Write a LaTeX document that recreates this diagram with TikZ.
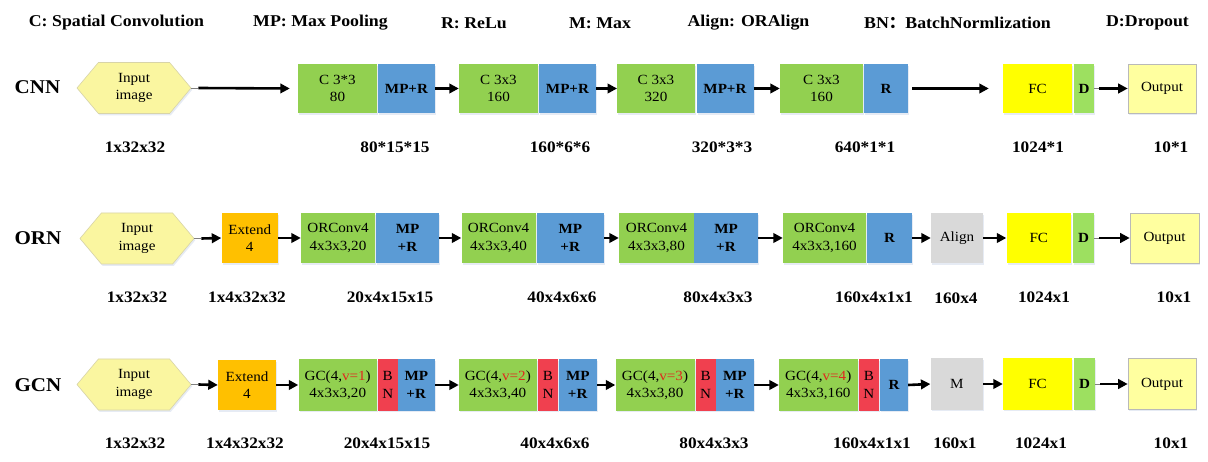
\documentclass[tikz,border=0pt]{standalone}
\usepackage{fontspec}
\setmainfont{Liberation Serif}[FakeStretch=1.08]
\newfontfamily\cjk{Noto Sans CJK SC}
\usetikzlibrary{shapes.symbols,arrows.meta,shadows,calc}
\definecolor{cgreen}{HTML}{92D050}
\definecolor{cblue}{HTML}{5B9BD5}
\definecolor{corange}{HTML}{FFC000}
\definecolor{cyellow}{HTML}{FFFF00}
\definecolor{clyellow}{HTML}{FFFF9F}
\definecolor{chex}{HTML}{FAF6A0}
\definecolor{chexb}{HTML}{D8D4A8}
\definecolor{cgray}{HTML}{D9D9D9}
\definecolor{cred}{HTML}{F0404F}
\definecolor{cdgreen}{HTML}{9DE060}
\definecolor{vred}{HTML}{E0281E}
\definecolor{cshadow}{HTML}{B8C8E0}
\tikzset{
  blk/.style={rectangle, inner sep=0pt, minimum height=50pt, align=center,
    font=\fontsize{14}{17.5}\selectfont,
    drop shadow={shadow xshift=1.2pt, shadow yshift=-1.8pt, opacity=0.35, fill=cshadow}},
  gbox/.style={blk, fill=cgreen},
  bbox/.style={blk, fill=cblue, font=\bfseries\fontsize{14}{17.5}\selectfont},
  rbox/.style={blk, fill=cred},
  obox/.style={blk, fill=corange},
  ybox/.style={blk, fill=cyellow},
  dbox/.style={blk, fill=cdgreen, font=\bfseries\fontsize{14}{17.5}\selectfont},
  abox/.style={blk, fill=cgray},
  outbox/.style={blk, fill=clyellow, draw=gray!55, line width=0.6pt},
  hexa/.style={shape=signal, signal to=west and east, signal pointer angle=100,
    fill=chex, draw=chexb, line width=0.6pt, inner sep=0pt,
    minimum width=114pt, minimum height=51pt, align=center,
    font=\fontsize{14}{17.5}\selectfont,
    drop shadow={shadow xshift=1.2pt, shadow yshift=-1.8pt, opacity=0.35, fill=cshadow}},
  arr/.style={line width=2.6pt, -{Triangle[length=9.5pt,width=9.5pt]}},
  stub/.style={draw=gray, line width=0.8pt},
  legend/.style={font=\bfseries\fontsize{16.5}{19}\selectfont, inner sep=0pt},
  dimlab/.style={font=\bfseries\fontsize{16}{19}\selectfont, inner sep=0pt},
  rowlab/.style={font=\bfseries\fontsize{19.5}{22}\selectfont, inner sep=0pt},
}
\begin{document}
\begin{tikzpicture}[x=1pt,y=-1pt]
\useasboundingbox (0,0) rectangle (1208,462);
\fill[white] (0,0) rectangle (1208,462);

% legend
\node[legend] (l1) at (116.5,23) {C: Spatial Convolution};
\node[legend] (l2) at (320.5,23) {MP: Max Pooling};
\node[legend] (l3) at (474,23) {R: ReLu};
\node[legend] (l4) at (600,23) {M: Max};
\node[legend] (l5) at (748.5,23) {Align: ORAlign};
\node[legend] (l6) at (957.5,23) {BN{\cjk\bfseries ：}BatchNormlization};
\node[legend] (l7) at (1147.5,23) {D:Dropout};

% row labels
\node[rowlab] (rcnn) at (37.5,87) {CNN};
\node[rowlab] (rorn) at (38,238) {ORN};
\node[rowlab] (rgcn) at (38,385) {GCN};

% ---------------- CNN ----------------
\node[hexa] (cin) at (134,88) {Input\\image};
\node[gbox, minimum width=79pt, minimum height=49pt] (c1) at (337.5,88.5) {C 3*3\\80};
\node[bbox, minimum width=57pt, minimum height=49pt] (c1r) at (406.5,88.5) {MP+R};
\node[gbox, minimum width=79pt, minimum height=49pt] (c2) at (498.5,88.5) {C 3x3\\160};
\node[bbox, minimum width=57pt, minimum height=49pt] (c2r) at (567.5,88.5) {MP+R};
\node[gbox, minimum width=77.5pt, minimum height=49pt] (c3) at (656,88.5) {C 3x3\\320};
\node[bbox, minimum width=57pt, minimum height=49pt] (c3r) at (725,88.5) {MP+R};
\node[gbox, minimum width=83pt, minimum height=49pt] (c4) at (821.5,88.5) {C 3x3\\160};
\node[bbox, minimum width=44pt, minimum height=49pt] (c4r) at (886,88.5) {R};
\node[ybox, minimum width=69pt, minimum height=49pt] (cfc) at (1037.5,88.5) {FC};
\node[dbox, minimum width=20pt, minimum height=49pt] (cd) at (1084,88.5) {D};
\node[outbox, minimum width=68pt, minimum height=49pt] (cout) at (1162,88.5) {Output};

\draw[stub] (cin.east) -- ++(7,0) coordinate (cs1);
\draw[arr] (cs1) -- ($(c1.west)+(-8,0)$);
\draw[arr] (c1r.east) -- (c2.west);
\draw[arr] (c2r.east) -- (c3.west);
\draw[arr] (c3r.east) -- (c4.west);
\draw[arr] ($(c4r.east)+(4,0)$) -- ($(cfc.west)+(-14,0)$);
\draw[stub] (cd.east) -- ++(5,0) coordinate (cs2);
\draw[arr] (cs2) -- (cout.west);

\node[dimlab] (cd1) at (135,147) {1x32x32};
\node[dimlab] (cd2) at (395,147) {80*15*15};
\node[dimlab] (cd3) at (560,147) {160*6*6};
\node[dimlab] (cd4) at (722,147) {320*3*3};
\node[dimlab] (cd5) at (865,147) {640*1*1};
\node[dimlab] (cd6) at (1038,147) {1024*1};
\node[dimlab] (cd7) at (1171,147) {10*1};

% ---------------- ORN ----------------
\node[hexa] (oin) at (137,238.5) {Input\\image};
\node[obox, minimum width=56.5pt] (oext) at (249.75,238) {Extend\\4};
\node[gbox, minimum width=74pt] (o1) at (338,238) {ORConv4\\4x3x3,20};
\node[bbox, minimum width=63pt] (o1r) at (407.5,238) {MP\\+R};
\node[gbox, minimum width=74pt] (o2) at (498.5,238) {ORConv4\\4x3x3,40};
\node[bbox, minimum width=67.5pt] (o2r) at (570.25,238) {MP\\+R};
\node[gbox, minimum width=75pt] (o3) at (656.5,238) {ORConv4\\4x3x3,80};
\node[bbox, minimum width=63.5pt] (o3r) at (726,238) {MP\\+R};
\node[gbox, minimum width=83pt] (o4) at (824.5,238) {ORConv4\\4x3x3,160};
\node[bbox, minimum width=45pt] (o4r) at (889.5,238) {R};
\node[abox, minimum width=52pt] (oal) at (957,238) {Align};
\node[ybox, minimum width=64.5pt] (ofc) at (1038.75,238) {FC};
\node[dbox, minimum width=21pt] (od) at (1083.5,238) {D};
\node[outbox, minimum width=69pt] (oout) at (1164.5,238) {Output};

\draw[stub] (oin.east) -- ++(7,0) coordinate (os1);
\draw[arr] (os1) -- (oext.west);
\draw[arr] (oext.east) -- (o1.west);
\draw[arr] (o1r.east) -- (o2.west);
\draw[arr] (o2r.east) -- (o3.west);
\draw[arr] (o3r.east) -- (o4.west);
\draw[arr] (o4r.east) -- (oal.west);
\draw[arr] (oal.east) -- (ofc.west);
\draw[stub] (od.east) -- ++(5,0) coordinate (os2);
\draw[arr] (os2) -- (oout.west);

\node[dimlab] (od1) at (137,297) {1x32x32};
\node[dimlab] (od2) at (247,297) {1x4x32x32};
\node[dimlab] (od3) at (390,297) {20x4x15x15};
\node[dimlab] (od4) at (562,297) {40x4x6x6};
\node[dimlab] (od5) at (718,297) {80x4x3x3};
\node[dimlab] (od6) at (874,297) {160x4x1x1};
\node[dimlab] (od7) at (956,298.5) {160x4};
\node[dimlab] (od8) at (1044,297) {1024x1};
\node[dimlab] (od9) at (1174,297) {10x1};

% ---------------- GCN ----------------
\node[hexa] (gin) at (134,384.5) {Input\\image};
\node[obox, minimum width=58pt] (gext) at (247,385) {Extend\\4};
\node[gbox, minimum width=78.5pt, minimum height=51pt] (g1) at (337.75,385) {GC(4,{\color{vred}v=1})\\4x3x3,20};
\node[rbox, minimum width=19.5pt, minimum height=51pt] (g1b) at (387.75,385) {B\\N};
\node[bbox, minimum width=37.5pt, minimum height=51pt] (g1r) at (416.25,385) {MP\\+R};
\node[gbox, minimum width=77.6pt, minimum height=51pt] (g2) at (497.8,385) {GC(4,{\color{vred}v=2})\\4x3x3,40};
\node[rbox, minimum width=20pt, minimum height=51pt] (g2b) at (548,385) {B\\N};
\node[bbox, minimum width=38.5pt, minimum height=51pt] (g2r) at (577.75,385) {MP\\+R};
\node[gbox, minimum width=79pt, minimum height=51pt] (g3) at (655,385) {GC(4,{\color{vred}v=3})\\4x3x3,80};
\node[rbox, minimum width=20.2pt, minimum height=51pt] (g3b) at (705.6,385) {B\\N};
\node[bbox, minimum width=38.3pt, minimum height=51pt] (g3r) at (734.85,385) {MP\\+R};
\node[gbox, minimum width=78.5pt, minimum height=51pt] (g4) at (818.25,385) {GC(4,{\color{vred}v=4})\\4x3x3,160};
\node[rbox, minimum width=19.7pt, minimum height=51pt] (g4b) at (868.85,385) {B\\N};
\node[bbox, minimum width=28pt, minimum height=51pt] (g4r) at (894,385) {R};
\node[abox, minimum width=52.4pt, minimum height=51pt] (gm) at (956.8,384) {M};
\node[ybox, minimum width=69pt, minimum height=51pt] (gfc) at (1037.5,384) {FC};
\node[dbox, minimum width=21pt, minimum height=51pt] (gd) at (1084.5,384) {D};
\node[outbox, minimum width=68pt, minimum height=51pt] (gout) at (1162,384) {Output};

\draw[stub] (gin.east) -- ++(7,0) coordinate (gs1);
\draw[arr] (gs1) -- (gext.west);
\draw[arr] (gext.east) -- (g1.west);
\draw[arr] (g1r.east) -- (g2.west);
\draw[arr] (g2r.east) -- (g3.west);
\draw[arr] (g3r.east) -- (g4.west);
\draw[arr] (g4r.east) -- (gm.west);
\draw[arr] (gm.east) -- (gfc.west);
\draw[stub] (gd.east) -- ++(5,0) coordinate (gs2);
\draw[arr] (gs2) -- (gout.west);

\node[dimlab] (gd1) at (135,443) {1x32x32};
\node[dimlab] (gd2) at (245,443) {1x4x32x32};
\node[dimlab] (gd3) at (387,443) {20x4x15x15};
\node[dimlab] (gd4) at (555,443) {40x4x6x6};
\node[dimlab] (gd5) at (714,443) {80x4x3x3};
\node[dimlab] (gd6) at (872,443) {160x4x1x1};
\node[dimlab] (gd7) at (955,443) {160x1};
\node[dimlab] (gd8) at (1041,443) {1024x1};
\node[dimlab] (gd9) at (1171,443) {10x1};
\end{tikzpicture}
\end{document}
